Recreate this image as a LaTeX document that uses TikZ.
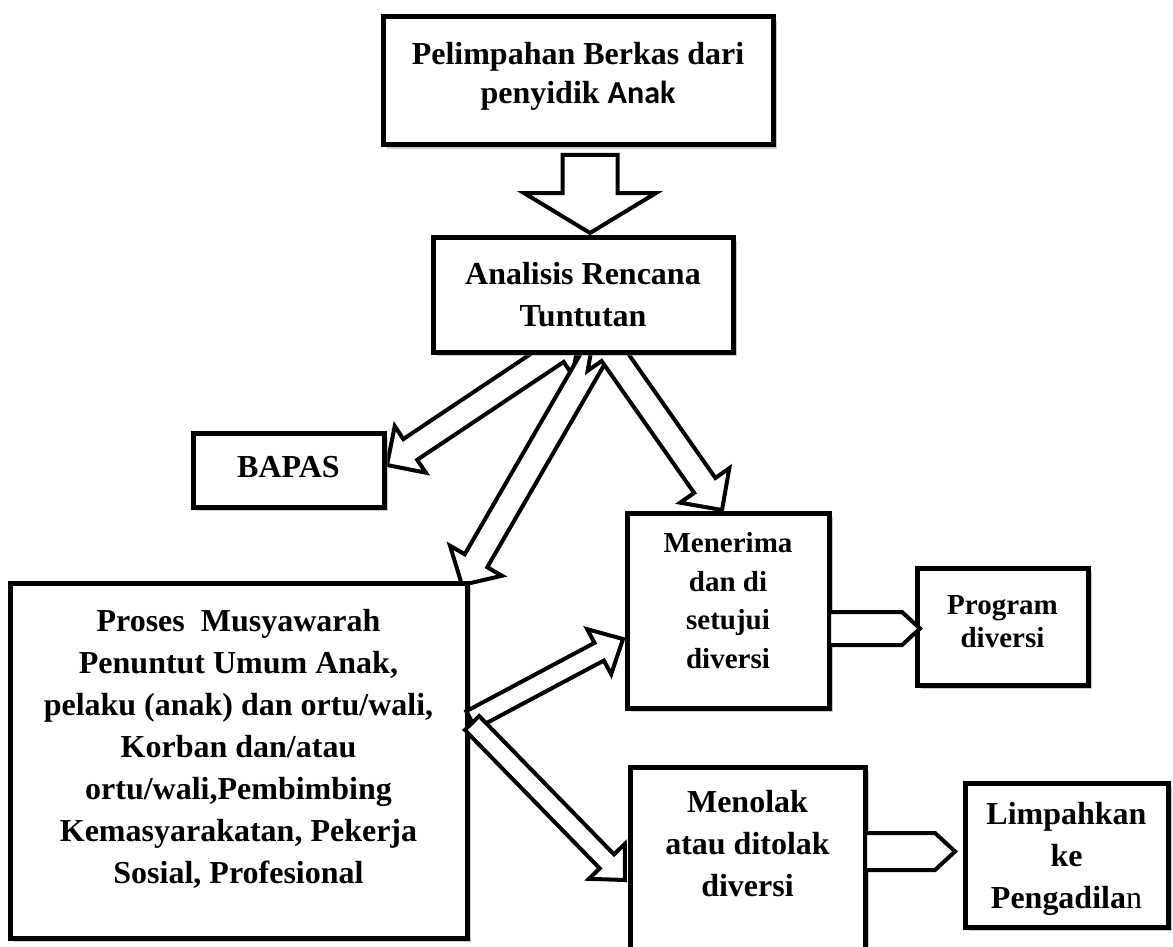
\documentclass[tikz,border=0pt]{standalone}
\usepackage{fontspec}
\setmainfont{Liberation Serif}
\newfontfamily\calibrifont{Carlito}
\usetikzlibrary{calc}
\usetikzlibrary{shadows}
\usetikzlibrary{backgrounds}

% block arrow: #1 tail, #2 tip, #3 half shaft, #4 half head, #5 head length
\newcommand{\onearrow}[5]{%
\coordinate (hb) at ($(#2)!#5!(#1)$);
\draw[blk] ($(#1)!#3!90:(#2)$) -- ($(hb)!#3!-90:(#1)$) -- ($(hb)!#4!-90:(#1)$) -- (#2)
  -- ($(hb)!#4!90:(#1)$) -- ($(hb)!#3!90:(#1)$) -- ($(#1)!#3!-90:(#2)$) -- cycle;
}
% same, with a head at both ends
\newcommand{\twoarrow}[5]{%
\coordinate (ha) at ($(#1)!#5!(#2)$);
\coordinate (hb) at ($(#2)!#5!(#1)$);
\draw[blk] (#1) -- ($(ha)!#4!90:(#2)$) -- ($(ha)!#3!90:(#2)$) -- ($(hb)!#3!-90:(#1)$)
  -- ($(hb)!#4!-90:(#1)$) -- (#2) -- ($(hb)!#4!90:(#1)$) -- ($(hb)!#3!90:(#1)$)
  -- ($(ha)!#3!-90:(#2)$) -- ($(ha)!#4!-90:(#2)$) -- cycle;
}

\begin{document}
\begin{tikzpicture}[x=1pt,y=-1pt]
\tikzstyle{box} = [draw, line width=5pt, fill=white, align=center, inner sep=0pt, outer sep=0pt,
  drop shadow={shadow xshift=4pt, shadow yshift=-4pt, fill=black!45, opacity=0.45}]
\tikzstyle{txtbig} = [font=\fontsize{32}{42}\selectfont\bfseries]
\tikzstyle{txtmid} = [font=\fontsize{29}{38.5}\selectfont\bfseries]
\tikzstyle{blk} = [draw, line width=4pt, fill=white, line join=miter]

\useasboundingbox (0,0) rectangle (1173,947);

% boxes
\draw(578,81) node[box, font=\fontsize{32}{38.5}\selectfont\bfseries, minimum width=390pt, minimum height=128pt, text depth=16pt]
  (pelimpahan) {Pelimpahan Berkas dari\\penyidik {\calibrifont Anak}};
\draw(583,294.5) node[box, txtbig, minimum width=300pt, minimum height=115pt, text depth=-2pt]
  (analisis) {Analisis Rencana\\Tuntutan};
\draw(288.5,470) node[box, txtbig, minimum width=191pt, minimum height=74pt, text depth=6pt]
  (bapas) {BAPAS};
\draw(238.5,760.5) node[box, txtbig, minimum width=457pt, minimum height=355pt, text depth=29pt]
  (proses) {Proses\ \ Musyawarah\\Penuntut Umum Anak,\\pelaku (anak) dan ortu/wali,\\Korban dan/atau\\ortu/wali,Pembimbing\\Kemasyarakatan, Pekerja\\Sosial, Profesional};
\draw(728,610.5) node[box, txtmid, minimum width=202pt, minimum height=195pt, text depth=20pt]
  (terima) {Menerima\\dan di\\setujui\\diversi};
\draw(1002.5,626.5) node[box, font=\fontsize{29}{33}\selectfont\bfseries, minimum width=171pt, minimum height=117pt, text depth=10pt]
  (program) {Program\\diversi};
\draw(747.5,871) node[box, txtbig, minimum width=235pt, minimum height=208pt, text depth=55pt]
  (tolak) {Menolak\\atau ditolak\\diversi};
\draw(1066.5,855) node[box, txtbig, minimum width=203pt, minimum height=144pt, text depth=0pt]
  (limpah) {Limpahkan\\ke\\Pengadila{\mdseries n}};

% arrows going under the boxes
\begin{scope}[on background layer]
\coordinate (d0) at ($(pelimpahan.south)+(12,10)$);
\coordinate (d1) at ($(analisis.north)+(7,-4)$);
\onearrow{d0}{d1}{27.5pt}{66pt}{40pt}
\coordinate (a1) at ($(analisis.south)+(-3,-16)$);
\coordinate (a2) at ($(bapas.east)+(3,-5)$);
\twoarrow{a1}{a2}{12.5pt}{28pt}{28pt}
\coordinate (p1) at ($(analisis.south)+(27.5,-24)$);
\coordinate (p2) at ($(proses.north east)+(-5,2)$);
\twoarrow{p1}{p2}{13pt}{30pt}{28pt}
\coordinate (m1) at ($(analisis.south)+(12,-23)$);
\coordinate (m2) at ($(terima.north)+(-6,-3)$);
\twoarrow{m1}{m2}{13pt}{30pt}{30pt}
\end{scope}

% arrows out of the musyawarah box
\coordinate (t0) at ($(proses.east)+(4,-40.5)$);
\coordinate (t1) at ($(terima.west)+(-4,28.5)$);
\onearrow{t0}{t1}{10pt}{25.5pt}{27pt}
\coordinate (r0) at ($(proses.east)+(5,-37.5)$);
\coordinate (r1) at ($(tolak.west)+(-5,9)$);
\onearrow{r0}{r1}{10pt}{25pt}{26pt}

% pentagon arrows
\coordinate (g0) at ($(terima.east)+(0,18)$);
\coordinate (g1) at ($(program.west)+(3,2)$);
\onearrow{g0}{g1}{16.5pt}{16.5pt}{18pt}
\coordinate (h0) at ($(tolak.east)+(0,-19.5)$);
\coordinate (h1) at ($(limpah.west)+(-10,-3.5)$);
\onearrow{h0}{h1}{18.5pt}{18.5pt}{20pt}
\end{tikzpicture}
\end{document}
